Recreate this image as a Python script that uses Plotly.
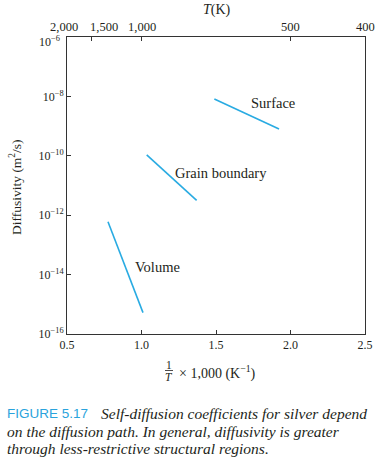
import plotly.graph_objects as go

# ---- data ----
volume_x = [0.775, 1.01]
volume_logD = [-12.22, -15.28]
grain_x = [1.035, 1.370]
grain_logD = [-9.97, -11.50]
surface_x = [1.489, 1.923]
surface_logD = [-8.09, -9.10]

x_ticks = [0.5, 1.0, 1.5, 2.0, 2.5]
x_ticklabels = ["0.5", "1.0", "1.5", "2.0", "2.5"]
y_exponents = [-16, -14, -12, -10, -8, -6]
T_ticks = [2000, 1500, 1000, 500, 400]
T_ticklabels = ["2,000", "1,500", "1,000", "500", "400"]

labels = ["Surface", "Grain boundary", "Volume"]
label_x = [1.883, 1.533, 1.104]
label_logD = [-8.22, -10.57, -13.76]

LINE = "#29abe2"
TXT = "#231f20"
SERIF = "Liberation Serif"
SANS = "Liberation Sans"

W, H = 389, 471
# plot area in page px
L, R, T, B = 67, 365, 37, 334

def px(x):
    return (x - L) / (R - L)

def py(y):
    return (B - y) / (B - T)

def ylab(e):
    return "10<sup>\u2212%d</sup>" % (-e)

fig = go.Figure()
for xs, ys in [(volume_x, volume_logD), (grain_x, grain_logD), (surface_x, surface_logD)]:
    fig.add_trace(go.Scatter(x=xs, y=[10 ** v for v in ys], mode="lines",
                             line=dict(color=LINE, width=1.6), showlegend=False,
                             hoverinfo="skip"))
# dummy trace for top axis
fig.add_trace(go.Scatter(x=[0.5], y=[1e-6], xaxis="x2", mode="markers",
                         marker=dict(opacity=0), showlegend=False, hoverinfo="skip"))

top_e = max(y_exponents)
fig.update_layout(
    width=W, height=H,
    margin=dict(l=L, r=W - R, t=T, b=H - B),
    paper_bgcolor="white", plot_bgcolor="white",
    font=dict(family=SERIF, size=12, color=TXT),
    xaxis=dict(range=[0.5, 2.5], tickvals=x_ticks, ticktext=x_ticklabels,
               ticks="inside", ticklen=4, tickcolor="#333", showgrid=False,
               zeroline=False, showline=True, linecolor="#333", linewidth=1,
               mirror=True, automargin=False, tickangle=0,
               tickfont=dict(family=SERIF, size=12, color=TXT)),
    xaxis2=dict(range=[0.5, 2.5], overlaying="x", side="top",
                tickvals=[1000 / t for t in T_ticks], showticklabels=False,
                ticks="inside", ticklen=4, tickcolor="#333", showgrid=False,
                zeroline=False, showline=False, automargin=False),
    yaxis=dict(type="log", range=[-16, -6],
               tickvals=[10 ** e for e in y_exponents],
               ticktext=["" if e == top_e else ylab(e) for e in y_exponents],
               ticks="inside", ticklen=4, tickcolor="#333", showgrid=False,
               zeroline=False, showline=True, linecolor="#333", linewidth=1,
               mirror=True, automargin=False,
               tickfont=dict(family=SERIF, size=12, color=TXT)),
)

ann = []
for t, x, y in zip(labels, label_x, label_logD):
    ann.append(dict(x=x, y=y, xref="x", yref="y", text=t, showarrow=False,
                    xanchor="center", yanchor="middle",
                    font=dict(family=SERIF, size=14.5, color=TXT)))

# top-axis tick labels (temperatures), nudged apart like the reference
shifts = [-3, 12, 0, 0, 0]
for t, lab, s in zip(T_ticks, T_ticklabels, shifts):
    ann.append(dict(x=1000 / t, y=py(27), xref="x2", yref="paper", text=lab,
                    xshift=s, showarrow=False, xanchor="center", yanchor="middle",
                    font=dict(family=SERIF, size=12.5, color=TXT)))

# top y tick label (log axis: annotation y in log10 units), nudged down
ann.append(dict(x=0, y=top_e, xref="paper", yref="y", text=ylab(top_e),
                xshift=-5, yshift=-4, showarrow=False, xanchor="right", yanchor="middle",
                font=dict(family=SERIF, size=12, color=TXT)))

def pann(x, y, text, size, family=SERIF, color=TXT, xanchor="center", angle=0):
    ann.append(dict(x=px(x), y=py(y), xref="paper", yref="paper", text=text,
                    showarrow=False, xanchor=xanchor, yanchor="middle",
                    textangle=angle, font=dict(family=family, size=size, color=color)))

# top axis title
pann(217, 10, "<i>T</i>(K)", 14)
# y axis title
pann(16, 187, "Diffusivity (m<sup>2</sup>/s)", 13.5, angle=-90)
# x axis title as fraction
pann(169, 365, "1", 11.5)
pann(169, 377, "<i>T</i>", 11.5)
pann(177, 372, "\u00d7 1,000 (K<sup>\u22121</sup>)", 14, xanchor="left")
# caption
pann(5, 413, "FIGURE 5.17", 13.5, family=SANS, color="#2aa3dc", xanchor="left")
pann(99, 413, "<i>Self-diffusion coefficients for silver depend</i>", 15.5, xanchor="left")
pann(5, 431, "<i>on the diffusion path. In general, diffusivity is greater</i>", 15.5, xanchor="left")
pann(5, 449, "<i>through less-restrictive structural regions.</i>", 15.5, xanchor="left")

fig.update_layout(annotations=ann)
fig.add_shape(type="line", xref="paper", yref="paper",
              x0=px(165), x1=px(173), y0=py(370.5), y1=py(370.5),
              line=dict(color=TXT, width=0.8))

fig.write_html("out.html",
               config={"displayModeBar": False},
               post_script="document.body.style.margin='0';document.body.style.overflow='hidden';")
